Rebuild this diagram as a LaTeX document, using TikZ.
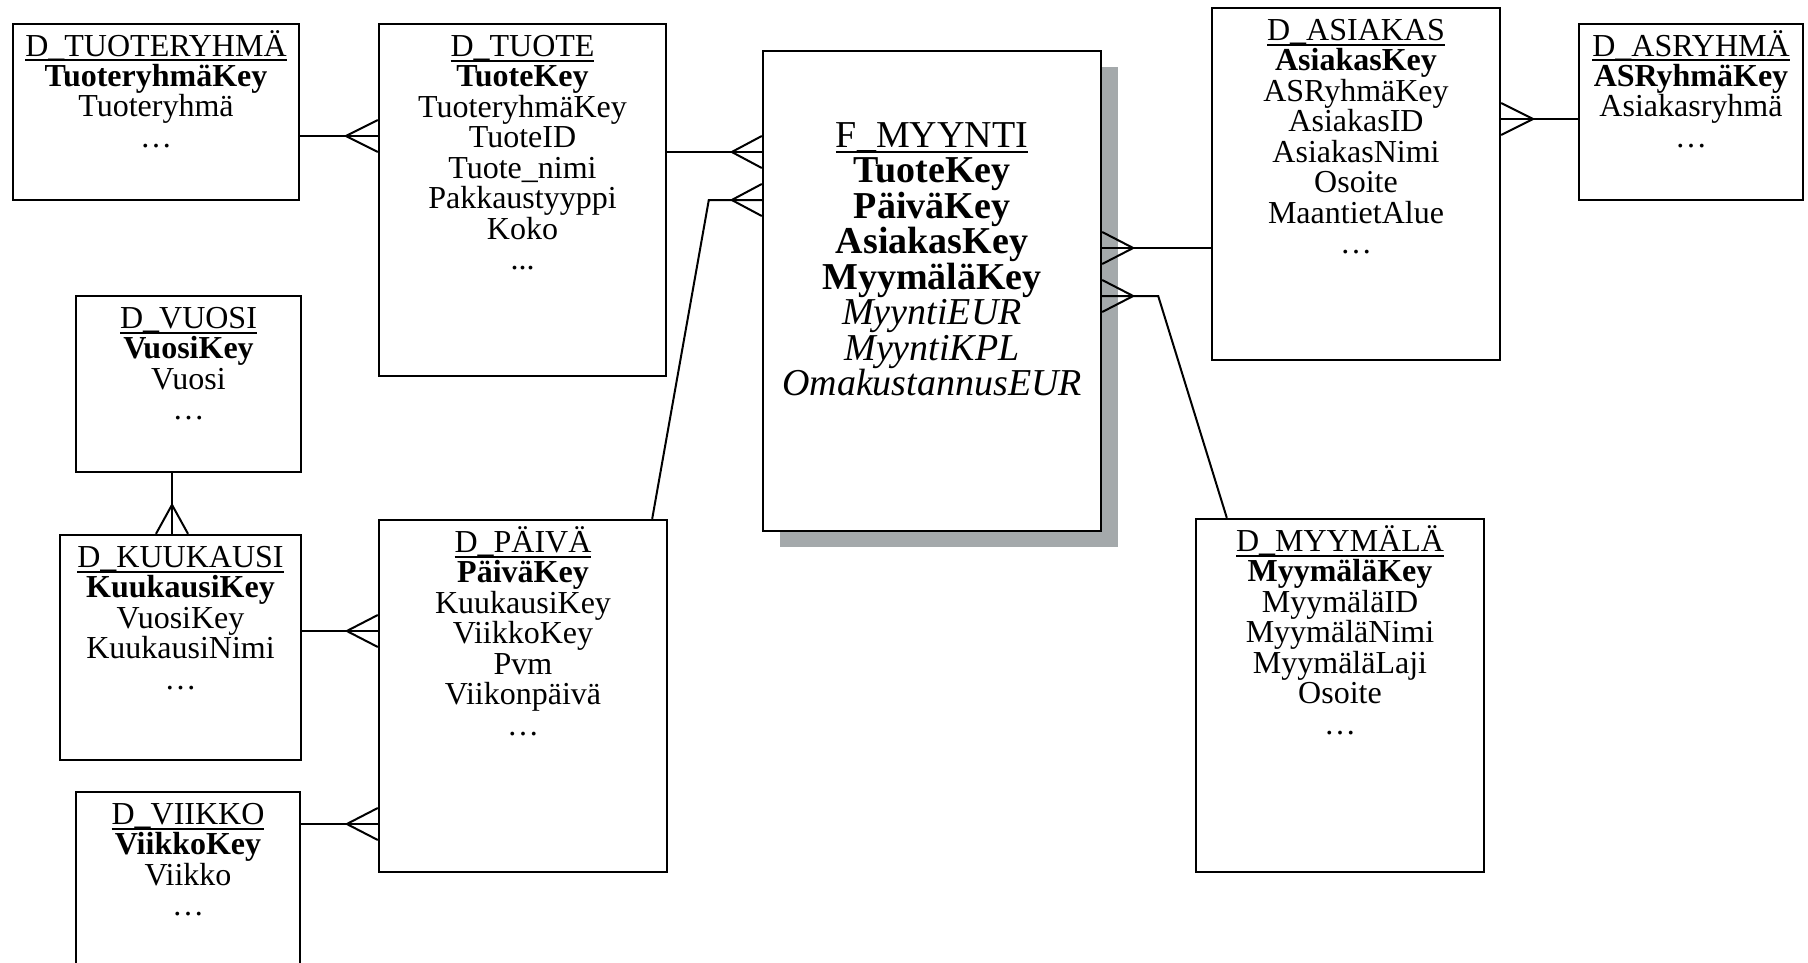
\documentclass[tikz,border=0pt]{standalone}
\usepackage{fontspec}
\setmainfont{Liberation Serif}
\usetikzlibrary{positioning,shadows}

\definecolor{shadowgray}{RGB}{164,169,171}

% table title, underlined
\newcommand{\ttl}[1]{\rule{0pt}{30pt}\setbox0\hbox{#1}\rlap{\rule[-5.5pt]{\wd0}{2pt}}\box0}
% crow's foot at an edge point
\newcommand{\crowh}[2]{\draw[foot] ([yshift=16pt]#1) -- ([xshift=#2]#1) -- ([yshift=-16pt]#1);}
\newcommand{\crowv}[2]{\draw[foot] ([xshift=16pt]#1) -- ([yshift=#2]#1) -- ([xshift=-16pt]#1);}

\tikzset{
  entity/.style={draw, line width=2.4pt, fill=white, inner sep=0pt},
  fields/.style={align=center, inner sep=0pt, font=\fontsize{32}{30.5}\selectfont},
  factfields/.style={fields, font=\fontsize{38}{35.5}\selectfont},
  link/.style={line width=2.6pt},
  foot/.style={line width=2pt},
}

\begin{document}
\begin{tikzpicture}[x=1pt, y=-1pt]
\useasboundingbox (0,0) rectangle (1808,963);

% Tables
\node[entity, minimum width=286pt, minimum height=176pt] (tryhma) at (156,112) {};
\node[entity, minimum width=287pt, minimum height=352pt] (tuote) at (522.5,200) {};
\node[entity, minimum width=338pt, minimum height=480pt,
  drop shadow={shadow xshift=17pt, shadow yshift=-16pt, fill=shadowgray, opacity=1}] (fact) at (932,291) {};
\node[entity, minimum width=288pt, minimum height=352pt] (asiakas) at (1356,184) {};
\node[entity, minimum width=224pt, minimum height=176pt] (asryhma) at (1691,112) {};
\node[entity, minimum width=225pt, minimum height=176pt] (vuosi) at (188.5,384) {};
\node[entity, minimum width=241pt, minimum height=225pt] (kuukausi) at (180.5,647.5) {};
\node[entity, minimum width=288pt, minimum height=352pt] (paiva) at (523,696) {};
\node[entity, minimum width=224pt, minimum height=176pt] (viikko) at (188,880) {};
\node[entity, minimum width=288pt, minimum height=353pt] (myymala) at (1340,695.5) {};

% Fields
\node[fields, below=3pt of tryhma.north] (tryhma-f) {\ttl{D\_TUOTERYHMÄ}\\\textbf{TuoteryhmäKey}\\Tuoteryhmä\\\dots};
\node[fields, below=3pt of tuote.north] (tuote-f) {\ttl{D\_TUOTE}\\\textbf{TuoteKey}\\TuoteryhmäKey\\TuoteID\\Tuote\_nimi\\Pakkaustyyppi\\Koko\\...};
\node[factfields, below=67pt of fact.north] (fact-f) {\ttl{F\_MYYNTI}\\\textbf{TuoteKey}\\\textbf{PäiväKey}\\\textbf{AsiakasKey}\\\textbf{MyymäläKey}\\
  \textit{MyyntiEUR}\\\textit{MyyntiKPL}\\\textit{OmakustannusEUR}};
\node[fields, below=3pt of asiakas.north] (asiakas-f) {\ttl{D\_ASIAKAS}\\\textbf{AsiakasKey}\\ASRyhmäKey\\AsiakasID\\AsiakasNimi\\Osoite\\MaantietAlue\\\dots};
\node[fields, below=3pt of asryhma.north] (asryhma-f) {\ttl{D\_ASRYHMÄ}\\\textbf{ASRyhmäKey}\\Asiakasryhmä\\\dots};
\node[fields, below=3pt of vuosi.north] (vuosi-f) {\ttl{D\_VUOSI}\\\textbf{VuosiKey}\\Vuosi\\\dots};
\node[fields, below=3pt of kuukausi.north] (kuukausi-f) {\ttl{D\_KUUKAUSI}\\\textbf{KuukausiKey}\\VuosiKey\\KuukausiNimi\\\dots};
\node[fields, below=3pt of paiva.north] (paiva-f) {\ttl{D\_PÄIVÄ}\\\textbf{PäiväKey}\\KuukausiKey\\ViikkoKey\\Pvm\\Viikonpäivä\\\dots};
\node[fields, below=3pt of viikko.north] (viikko-f) {\ttl{D\_VIIKKO}\\\textbf{ViikkoKey}\\Viikko\\\dots};
\node[fields, below=3pt of myymala.north] (myymala-f) {\ttl{D\_MYYMÄLÄ}\\\textbf{MyymäläKey}\\MyymäläID\\MyymäläNimi\\MyymäläLaji\\Osoite\\\dots};

% Relations
\coordinate (e1) at (tuote.west |- 0,136);
\draw[link] (tryhma.east |- e1) -- (e1);
\crowh{e1}{-32pt}

\coordinate (e2) at (fact.west |- 0,152);
\draw[link] (tuote.east |- e2) -- (e2);
\crowh{e2}{-30pt}

\coordinate (e3) at (fact.west |- 0,200);
\draw[foot] ([xshift=-16pt]paiva.north east) -- ([xshift=-53pt]e3) -- (e3);
\crowh{e3}{-30pt}

\coordinate (e4) at (fact.east |- 0,248);
\draw[link] (e4) -- (asiakas.west |- e4);
\crowh{e4}{31pt}

\coordinate (e5) at (fact.east |- 0,296);
\draw[foot] (e5) -- ([xshift=56pt]e5) -- ([xshift=32pt]myymala.north west);
\crowh{e5}{31pt}

\coordinate (e6) at (asiakas.east |- 0,119);
\draw[link] (e6) -- (asryhma.west |- e6);
\crowh{e6}{32pt}

\coordinate (e7) at (kuukausi.north -| 172,0);
\draw[link] (vuosi.south -| e7) -- (e7);
\crowv{e7}{29pt}

\coordinate (e8) at (paiva.west |- 0,631);
\draw[link] (kuukausi.east |- e8) -- (e8);
\crowh{e8}{-31pt}

\coordinate (e9) at (paiva.west |- 0,824);
\draw[link] (viikko.east |- e9) -- (e9);
\crowh{e9}{-31pt}
\end{tikzpicture}
\end{document}
